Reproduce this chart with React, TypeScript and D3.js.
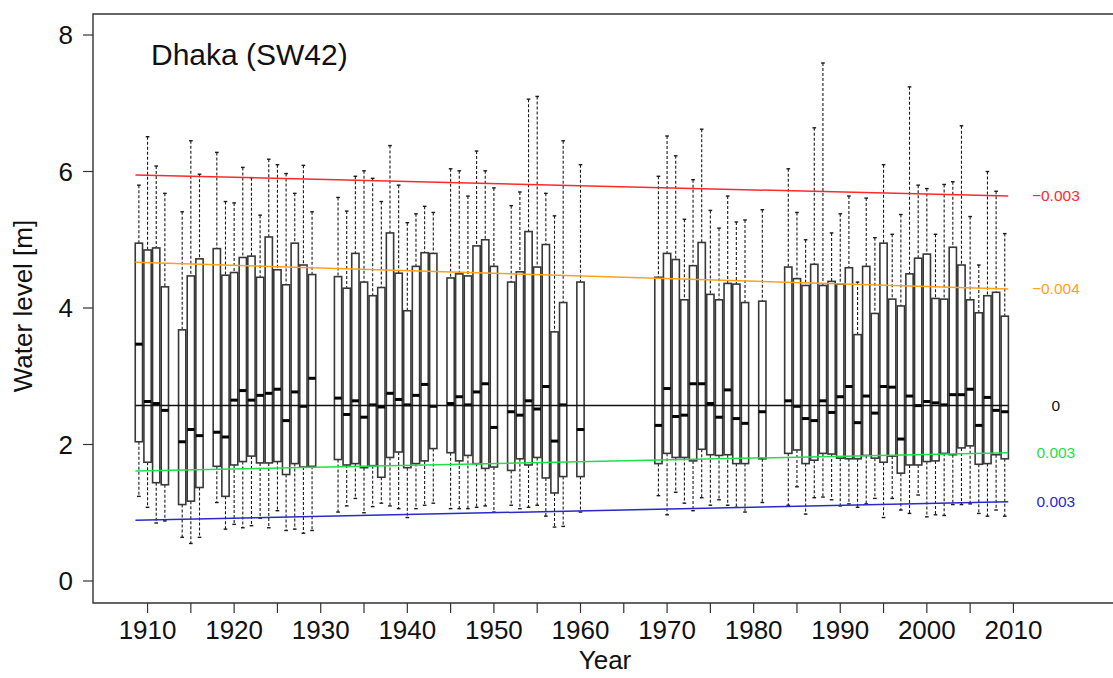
import React from "react";
import * as d3 from "d3";

// yearly water level boxplots, Dhaka station SW42 (values in m)
const years = [
  1909, 1910, 1911, 1912, 1914, 1915, 1916, 1918, 1919, 1920, 1921, 1922, 1923, 1924, 1925, 1926, 1927, 1928, 1929,
  1932, 1933, 1934, 1935, 1936, 1937, 1938, 1939, 1940, 1941, 1942, 1943, 1945, 1946, 1947, 1948, 1949, 1950,
  1952, 1953, 1954, 1955, 1956, 1957, 1958, 1960,
  1969, 1970, 1971, 1972, 1973, 1974, 1975, 1976, 1977, 1978, 1979, 1981,
  1984, 1985, 1986, 1987, 1988, 1989, 1990, 1991, 1992, 1993, 1994, 1995, 1996, 1997, 1998, 1999,
  2000, 2001, 2002, 2003, 2004, 2005, 2006, 2007, 2008, 2009,
];
const whiskerHigh = [
  5.8, 6.51, 6.08, 5.68, 5.41, 6.45, 5.96, 6.28, 5.56, 5.54, 6.06, 5.91, 5.36, 6.18, 6.1, 5.97, 5.68, 6.09, 5.41,
  5.62, 5.42, 5.93, 6.01, 5.9, 5.56, 6.38, 5.8, 5.25, 5.38, 5.49, 5.4, 6.04, 6.01, 5.64, 6.3, 6.01, 5.76,
  5.5, 5.7, 7.06, 7.1, 5.68, 5.35, 6.45, 6.1,
  5.93, 6.52, 6.23, 5.3, 5.88, 6.62, 5.43, 5.17, 5.64, 5.26, 5.29, 5.44,
  6.04, 5.4, 5.0, 6.64, 7.59, 5.1, 5.38, 5.64, 4.38, 5.61, 5.03, 6.1, 5.08, 5.37, 7.24, 5.8,
  5.75, 5.08, 5.81, 5.85, 6.67, 5.34, 4.63, 6.0, 5.71, 5.09,
];
const upperQuartile = [
  4.95, 4.85, 4.88, 4.31, 3.68, 4.47, 4.72, 4.87, 4.48, 4.52, 4.74, 4.76, 4.45, 5.04, 4.56, 4.34, 4.95, 4.63, 4.49,
  4.46, 4.29, 4.8, 4.38, 4.18, 4.3, 5.1, 4.51, 3.96, 4.61, 4.81, 4.8, 4.44, 4.5, 4.47, 4.91, 5.0, 4.61,
  4.38, 4.53, 5.12, 4.6, 4.93, 3.65, 4.08, 4.38,
  4.45, 4.8, 4.71, 4.12, 4.62, 4.96, 4.2, 4.12, 4.36, 4.35, 4.08, 4.1,
  4.6, 4.43, 4.33, 4.64, 4.33, 4.39, 4.35, 4.59, 3.61, 4.61, 3.92, 4.95, 4.13, 4.03, 4.5, 4.73,
  4.79, 4.14, 4.13, 4.89, 4.63, 4.12, 3.93, 4.18, 4.23, 3.88,
];
const medians = [
  3.47, 2.63, 2.6, 2.5, 2.04, 2.22, 2.13, 2.18, 2.11, 2.65, 2.79, 2.65, 2.72, 2.75, 2.81, 2.35, 2.77, 2.56, 2.97,
  2.68, 2.44, 2.64, 2.4, 2.58, 2.55, 2.75, 2.66, 2.58, 2.72, 2.88, 2.56, 2.6, 2.7, 2.58, 2.77, 2.89, 2.25,
  2.48, 2.43, 2.64, 2.52, 2.85, 2.05, 2.58, 2.22,
  2.28, 2.82, 2.41, 2.43, 2.89, 2.89, 2.6, 2.4, 2.8, 2.38, 2.31, 2.48,
  2.64, 2.56, 2.38, 2.35, 2.64, 2.47, 2.7, 2.85, 2.32, 2.71, 2.46, 2.85, 2.84, 2.08, 2.71, 2.57,
  2.63, 2.61, 2.58, 2.73, 2.73, 2.81, 2.28, 2.69, 2.5, 2.48,
];
const lowerQuartile = [
  2.04, 1.74, 1.44, 1.41, 1.12, 1.17, 1.37, 1.68, 1.24, 1.7, 1.75, 1.83, 1.73, 1.73, 1.75, 1.56, 1.72, 1.67, 1.68,
  1.78, 1.7, 1.72, 1.66, 1.69, 1.52, 1.81, 1.89, 1.66, 1.72, 1.76, 1.94, 1.88, 1.76, 1.84, 1.72, 1.65, 1.67,
  1.62, 1.79, 1.7, 1.81, 1.51, 1.29, 1.53, 1.53,
  1.72, 1.87, 1.81, 1.81, 1.76, 1.93, 1.85, 1.84, 1.85, 1.72, 1.72, 1.79,
  1.87, 1.92, 1.72, 1.77, 1.87, 1.86, 1.8, 1.79, 1.79, 1.84, 1.8, 1.74, 1.83, 1.58, 1.7, 1.7,
  1.75, 1.76, 1.87, 1.85, 1.95, 1.98, 1.71, 1.72, 1.85, 1.79,
];
const whiskerLow = [
  1.24, 1.08, 0.85, 0.88, 0.64, 0.55, 0.64, 1.15, 0.76, 0.83, 0.78, 0.81, 0.92, 0.78, 1.03, 0.74, 0.76, 0.7, 0.74,
  1.01, 1.1, 1.21, 1.0, 1.09, 1.14, 1.1, 1.06, 0.93, 1.06, 1.11, 1.14, 1.06, 1.06, 1.06, 1.08, 1.1, 1.01,
  1.11, 1.06, 1.08, 1.11, 0.95, 0.79, 0.8, 1.01,
  1.25, 0.97, 1.3, 1.14, 1.03, 1.22, 1.11, 1.19, 1.11, 1.08, 1.01, 1.15,
  1.11, 1.38, 0.98, 1.22, 1.23, 1.19, 1.1, 1.13, 1.08, 1.13, 1.21, 0.93, 1.21, 1.04, 0.99, 1.26,
  0.94, 0.97, 0.96, 1.12, 1.12, 1.13, 0.99, 0.95, 1.04, 0.95,
];

// trend lines (start / end level) and their slope labels
const trendLabels = ["\u22120.003", "\u22120.004", "0", "0.003", "0.003"];
const trendStart = [5.95, 4.67, 2.57, 1.61, 0.89];
const trendEnd = [5.64, 4.28, 2.57, 1.88, 1.16];
const trendColors = ["#ff2a2a", "#ffa21a", "#111111", "#1fe04a", "#2a2ac8"];
const trendSpan = [1908.6, 2009.4];

const xTicks = d3.range(1910, 2011, 5);
const xLabels = d3.range(1910, 2011, 10);
const yTicks = [0, 2, 4, 6, 8];

const font = "'Liberation Sans', Arial, Helvetica, sans-serif";

export default function App() {
  const W = 1113;
  const H = 678;
  const left = 93;
  const top = 14;
  const bottom = 603;

  const x = d3.scaleLinear().domain([1903.7, 2021.5]).range([left, W]);
  const y = d3.scaleLinear().domain([0, 8]).range([581, 35]);
  const step = x(1) - x(0);
  const bw = step * 0.84;
  const cap = bw * 0.5;

  const trendLine = d3.line<number[]>().x(d => x(d[0])).y(d => y(d[1]));

  return (
    <div style={{ position: "absolute", left: 0, top: 0 }}>
      <svg width={W} height={H} style={{ display: "block", background: "#fff", fontFamily: font }}>
        {/* boxes */}
        {years.map((yr, i) => {
          const cx = x(yr);
          return (
            <g key={yr}>
              <line x1={cx} x2={cx} y1={y(whiskerHigh[i])} y2={y(upperQuartile[i])}
                stroke="#1a1a1a" strokeWidth={1.1} strokeDasharray="3,2" />
              <line x1={cx} x2={cx} y1={y(lowerQuartile[i])} y2={y(whiskerLow[i])}
                stroke="#1a1a1a" strokeWidth={1.1} strokeDasharray="3,2" />
              <line x1={cx - cap / 2} x2={cx + cap / 2} y1={y(whiskerHigh[i])} y2={y(whiskerHigh[i])}
                stroke="#1a1a1a" strokeWidth={1.4} />
              <line x1={cx - cap / 2} x2={cx + cap / 2} y1={y(whiskerLow[i])} y2={y(whiskerLow[i])}
                stroke="#1a1a1a" strokeWidth={1.4} />
              <rect x={cx - bw / 2} width={bw} y={y(upperQuartile[i])}
                height={y(lowerQuartile[i]) - y(upperQuartile[i])}
                fill="#fff" stroke="#383838" strokeWidth={1.6} />
              <line x1={cx - bw / 2} x2={cx + bw / 2} y1={y(medians[i])} y2={y(medians[i])}
                stroke="#000" strokeWidth={3} />
            </g>
          );
        })}

        {/* trend lines */}
        {trendLabels.map((lab, i) => (
          <g key={i}>
            <path d={trendLine([[trendSpan[0], trendStart[i]], [trendSpan[1], trendEnd[i]]]) || ""}
              stroke={trendColors[i]} strokeWidth={1.5} fill="none" />
            <text x={x(2014.9)} y={y(trendEnd[i])} dy="0.35em" textAnchor="middle"
              fontSize={15.5} fill={trendColors[i]}>{lab}</text>
          </g>
        ))}

        {/* frame */}
        <path d={`M${W + 2},${top}H${left}V${bottom}H${W + 2}`} fill="none" stroke="#333" strokeWidth={1.4} />

        {/* y axis */}
        {yTicks.map(t => (
          <g key={t}>
            <line x1={left - 10} x2={left} y1={y(t)} y2={y(t)} stroke="#333" strokeWidth={1.2} />
            <text x={73} y={y(t)} dy="0.36em" textAnchor="end" fontSize={26} fill="#111">{t}</text>
          </g>
        ))}

        {/* x axis */}
        {xTicks.map(t => (
          <line key={t} x1={x(t)} x2={x(t)} y1={bottom} y2={bottom + 10} stroke="#333" strokeWidth={1.2} />
        ))}
        {xLabels.map(t => (
          <text key={t} x={x(t)} y={639} textAnchor="middle" fontSize={26} fill="#111">{t}</text>
        ))}

        <text x={605} y={669} textAnchor="middle" fontSize={26} fill="#111">Year</text>
        <text transform="translate(32,306) rotate(-90)" textAnchor="middle" fontSize={26} fill="#111">
          Water level [m]
        </text>
        <text x={151} y={65} fontSize={30} fill="#111">Dhaka (SW42)</text>
      </svg>
    </div>
  );
}
